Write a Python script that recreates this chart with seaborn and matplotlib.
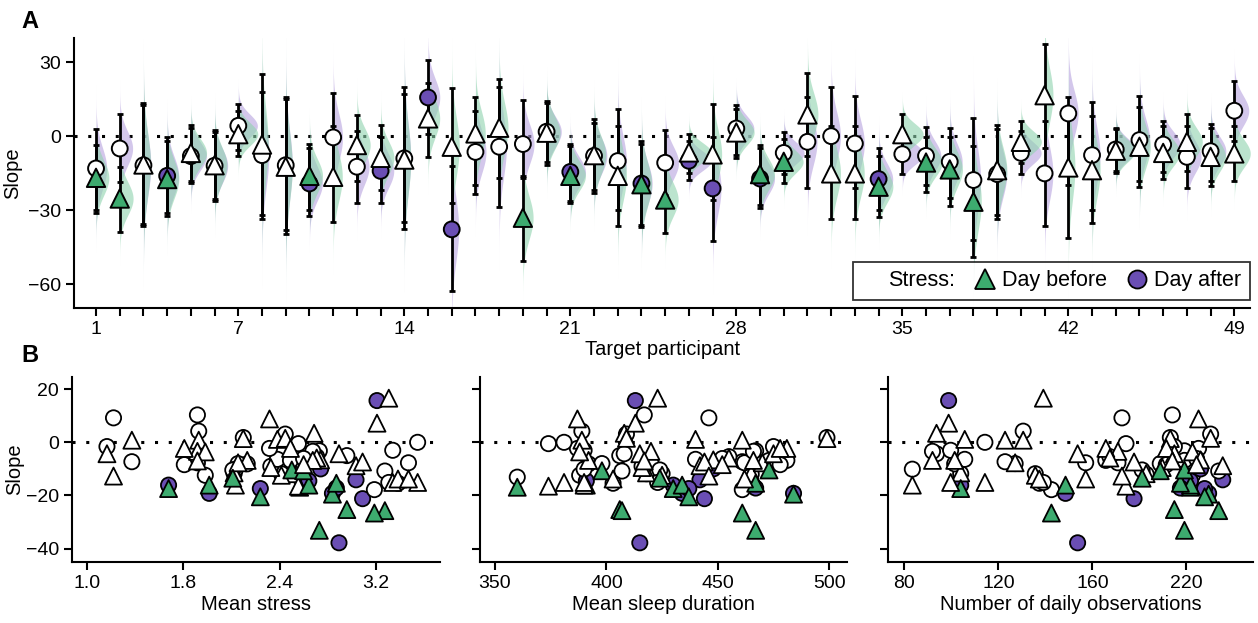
import matplotlib
matplotlib.use('Agg')
import matplotlib.pyplot as plt
from matplotlib.lines import Line2D
import numpy as np
import pandas as pd
import seaborn as sns

# ---- data ----
participant = np.arange(1, 50)
slope_before = [-16.9, -25.3, -11.5, -17.4, -6.8, -11.8, 0.8, -3.4, -12.4, -16.1,
                -16.5, -3.6, -8.8, -9.5, 7.2, -4.3, 1.1, 3.4, -33.1, 1.4,
                -16.1, -7.7, -16.1, -19.5, -25.7, -6.6, -7.4, 1.5, -15.4, -10.4,
                8.8, -15.1, -15.1, -20.5, 0.8, -10.7, -13.5, -26.6, -13.8, -2.3,
                16.6, -12.7, -13.8, -5.9, -4.3, -6.8, -2.3, -8.4, -7.0]
slope_after = [-13.1, -5.0, -11.8, -16.1, -8.1, -12.0, 4.2, -7.7, -11.8, -19.2,
               -0.5, -12.4, -14.1, -9.0, 15.7, -37.8, -6.4, -4.3, -3.2, 1.8,
               -14.5, -8.0, -10.1, -19.2, -10.8, -10.0, -21.2, 3.1, -17.2, -6.8,
               -2.3, 0.0, -3.0, -17.4, -7.3, -8.0, -10.4, -17.8, -15.4, -6.8,
               -15.1, 9.2, -7.7, -5.4, -1.6, -3.4, -8.4, -6.1, 10.3]
before_lo = [-31.1, -38.8, -36.5, -32.3, -18, -26.2, -8.1, -32, -39.5, -30,
             -34.7, -18, -22, -37.8, -8.6, -27, -20, -17, -50.5, -11.8,
             -27.3, -23.2, -36.5, -36.8, -39.2, -15, -26, -8.8, -28, -19.2,
             -8, -33.8, -33.8, -32.7, -8, -22.6, -28.2, -48.9, -32, -11,
             -5, -41.5, -35.4, -14.9, -20.5, -17.2, -14, -20.1, -18.1]
before_hi = [-3.6, -12.4, 13.5, -2, 4.5, 2.4, 10, 25, 15, -3,
             4, 8.5, 4.5, 17, 21.6, 19.7, 16, 23, -16, 14.3,
             -4, 6.8, 4, -2, -12, 0.8, 13, 11, -3.6, -1,
             25.7, 4, 4, -8, 8.9, -0.5, -0.5, -4, 4.5, 6.2,
             37.2, 12, 8, 3, 12, 4, 8.9, 3.5, 4]
after_lo = [-30, -18.5, -35.5, -31, -19.2, -25.5, -5.5, -33.8, -38, -32.3,
            -20, -27, -27.3, -35, 0.8, -62.8, -23.5, -28.9, -17, -10.5,
            -26.5, -22, -30, -36, -24, -17.8, -42.4, -7.5, -29.3, -15.5,
            -20.9, -18, -21, -30, -15.4, -20, -25, -42, -33.8, -15.4,
            -36.5, -20, -30, -14, -18, -14.5, -20.9, -18, -2]
after_hi = [3.1, 8.9, 12.5, -0.3, 3.5, 1.5, 13, 18, 16, -5,
            17.6, 2, -0.5, 20, 30.8, -12, 10, 20, 14.6, 13.5,
            -3.2, 5.5, 10.9, -3, 2.4, -2, -0.5, 12.6, -5, 1.8,
            16, 20, 16.4, -5, 1, 3.8, 3.4, 7.2, 3, 2,
            6, 15.9, 13.9, 3.5, 16.4, 6.2, 4, 5.1, 22.4]
sig_before = [1, 2, 4, 10, 19, 21, 24, 25, 29, 30, 34, 36, 37, 38]
sig_after = [4, 10, 13, 15, 16, 21, 24, 26, 27, 29, 34]

mean_stress = [2.62, 2.98, 2.12, 1.62, 2.22, 2.55, 1.85, 1.84, 2.48, 1.93,
               2.61, 1.90, 3.05, 2.40, 3.21, 2.92, 2.45, 2.73, 2.77, 2.19,
               2.69, 2.15, 2.13, 2.87, 3.27, 2.78, 3.10, 2.51, 2.90, 2.56,
               2.39, 3.52, 3.33, 2.32, 1.34, 2.65, 2.11, 3.19, 3.37, 2.55,
               3.30, 1.20, 3.45, 2.75, 1.15, 2.72, 1.74, 2.65, 1.84]
mean_sleep = [360, 406, 418, 430, 392, 465, 389, 420, 425, 434,
              374, 388, 442, 416, 413, 415, 440, 408, 467, 499,
              391, 470, 390, 484, 407, 448, 444, 409, 467, 473,
              387, 381, 390, 437, 461, 398, 424, 461, 403, 481,
              423, 446, 462, 455, 475, 466, 478, 452, 417]
n_obs = [222, 214, 108, 108, 105, 200, 139, 186, 145, 160,
         190, 223, 238, 208, 102, 166, 110, 96, 219, 212,
         222, 135, 84, 231, 236, 227, 194, 232, 217, 219,
         226, 120, 103, 229, 130, 207, 198, 153, 147, 180,
         149, 188, 170, 182, 214, 94, 210, 225, 213]

a_xticks = [1, 7, 14, 21, 28, 35, 42, 49]
stress_ticklabels = ['1.0', '1.8', '2.4', '3.2']
obs_ticklabels = ['80', '120', '160', '220']

GREEN = '#3dab6f'
PURPLE = '#6a4eb4'
GREEN_L = '#8fd3ae'
PURPLE_L = '#b7a2df'

# ---- long table ----
rows = []
for i, p in enumerate(participant):
    rows.append(dict(participant=p, stress='Day after', slope=slope_after[i],
                     lo=after_lo[i], hi=after_hi[i],
                     fill='after' if p in sig_after else 'ns',
                     mean_stress=mean_stress[i], mean_sleep=mean_sleep[i], n_obs=n_obs[i]))
for i, p in enumerate(participant):
    rows.append(dict(participant=p, stress='Day before', slope=slope_before[i],
                     lo=before_lo[i], hi=before_hi[i],
                     fill='before' if p in sig_before else 'ns',
                     mean_stress=mean_stress[i], mean_sleep=mean_sleep[i], n_obs=n_obs[i]))
df = pd.DataFrame(rows)

sns.set_theme(style='ticks')
plt.rcParams['font.family'] = ['Liberation Sans', 'DejaVu Sans']
plt.rcParams.update({
    'axes.linewidth': 1.5,
    'xtick.major.width': 1.5, 'ytick.major.width': 1.5,
    'xtick.major.size': 6, 'ytick.major.size': 6,
    'xtick.labelsize': 14, 'ytick.labelsize': 14,
    'axes.labelsize': 14.5,
    'xtick.color': 'black', 'ytick.color': 'black',
    'axes.edgecolor': 'black', 'axes.labelcolor': 'black', 'text.color': 'black',
})

fill_pal = {'before': GREEN, 'after': PURPLE, 'ns': 'white'}
mark = {'Day before': '^', 'Day after': 'o'}

fig = plt.figure(figsize=(12.58, 6.23), dpi=100)

# ---- panel A ----
axA = fig.add_axes([0.0588, 0.5056, 0.935, 0.433])
axA.axhline(0, color='black', ls=(0, (1, 3.5)), lw=2.2, zorder=0)

k = 9.5
for _, r in df.iterrows():
    sd = (r.hi - r.lo) / 3.92
    yy = np.linspace(r.slope - 4 * sd, r.slope + 4 * sd, 200)
    dens = np.exp(-0.5 * ((yy - r.slope) / sd) ** 2) / (sd * np.sqrt(2 * np.pi))
    col = GREEN_L if r.stress == 'Day before' else PURPLE_L
    axA.fill_betweenx(yy, r.participant, r.participant + k * dens,
                      color=col, alpha=0.6, lw=0, zorder=1)
    axA.errorbar(r.participant, r.slope, yerr=[[r.slope - r.lo], [r.hi - r.slope]],
                 fmt='none', ecolor='black', elinewidth=2, capsize=2.5,
                 capthick=2, zorder=2)

sns.scatterplot(data=df, x='participant', y='slope', hue='fill', style='stress',
                markers=mark, palette=fill_pal, size='stress',
                sizes={'Day before': 175, 'Day after': 130},
                edgecolor='black', linewidth=1.4, legend=False, ax=axA, zorder=3)

axA.set_xlim(0.07, 49.67)
axA.set_ylim(-69.7, 39.7)
axA.set_xticks(participant)
axA.set_xticklabels([str(p) if p in a_xticks else '' for p in participant])
axA.set_yticks([-60, -30, 0, 30])
axA.set_yticklabels(['\u221260', '\u221230', '0', '30'])
axA.set_xlabel('Target participant', labelpad=1)
axA.set_ylabel('Slope', labelpad=4)
sns.despine(ax=axA)

handles = [Line2D([], [], ls='none', marker='None', label='Stress:'),
           Line2D([], [], ls='none', marker='^', markersize=15, markerfacecolor=GREEN,
                  markeredgecolor='black', markeredgewidth=1.3, label='Day before'),
           Line2D([], [], ls='none', marker='o', markersize=13, markerfacecolor=PURPLE,
                  markeredgecolor='black', markeredgewidth=1.3, label='Day after')]
leg = axA.legend(handles=handles, ncol=3, loc='lower right', bbox_to_anchor=(1.0, 0.03),
                 frameon=True, fancybox=False, edgecolor='black', fontsize=15.5,
                 handlelength=0.8, handletextpad=0.4, columnspacing=1.0,
                 borderpad=0.4, borderaxespad=0)
leg.get_frame().set_linewidth(1.3)

# ---- panel B ----
b_specs = [
    ('mean_stress', 'Mean stress', [0.0572, 0.098, 0.2925, 0.297], (0.883, 3.69),
     np.linspace(1.0, 3.2, 4), stress_ticklabels),
    ('mean_sleep', 'Mean sleep duration', [0.3816, 0.098, 0.2917, 0.297], (343.3, 508),
     [350, 400, 450, 500], ['350', '400', '450', '500']),
    ('n_obs', 'Number of daily observations', [0.706, 0.098, 0.29, 0.297], (72, 253),
     np.linspace(80, 220, 4), obs_ticklabels),
]
for j, (col, lab, rect, xl, xt, xtl) in enumerate(b_specs):
    ax = fig.add_axes(rect)
    ax.axhline(0, color='black', ls=(0, (1, 3.5)), lw=2.2, zorder=0)
    sns.scatterplot(data=df, x=col, y='slope', hue='fill', style='stress',
                    markers=mark, palette=fill_pal, size='stress',
                    sizes={'Day before': 150, 'Day after': 120},
                    edgecolor='black', linewidth=1.3, legend=False, ax=ax, zorder=3)
    ax.set_xlim(*xl)
    ax.set_ylim(-45, 24.6)
    ax.set_xticks(xt)
    ax.set_xticklabels(xtl)
    ax.set_yticks([-40, -20, 0, 20])
    if j == 0:
        ax.set_yticklabels(['\u221240', '\u221220', '0', '20'])
        ax.set_ylabel('Slope', labelpad=1)
    else:
        ax.set_yticklabels([])
        ax.set_ylabel('')
    ax.set_xlabel(lab, labelpad=2)
    sns.despine(ax=ax)

fig.text(0.017, 0.965, 'A', fontsize=17, fontweight='bold', va='center')
fig.text(0.017, 0.43, 'B', fontsize=17, fontweight='bold', va='center')

fig.savefig('out.png', dpi=100)
